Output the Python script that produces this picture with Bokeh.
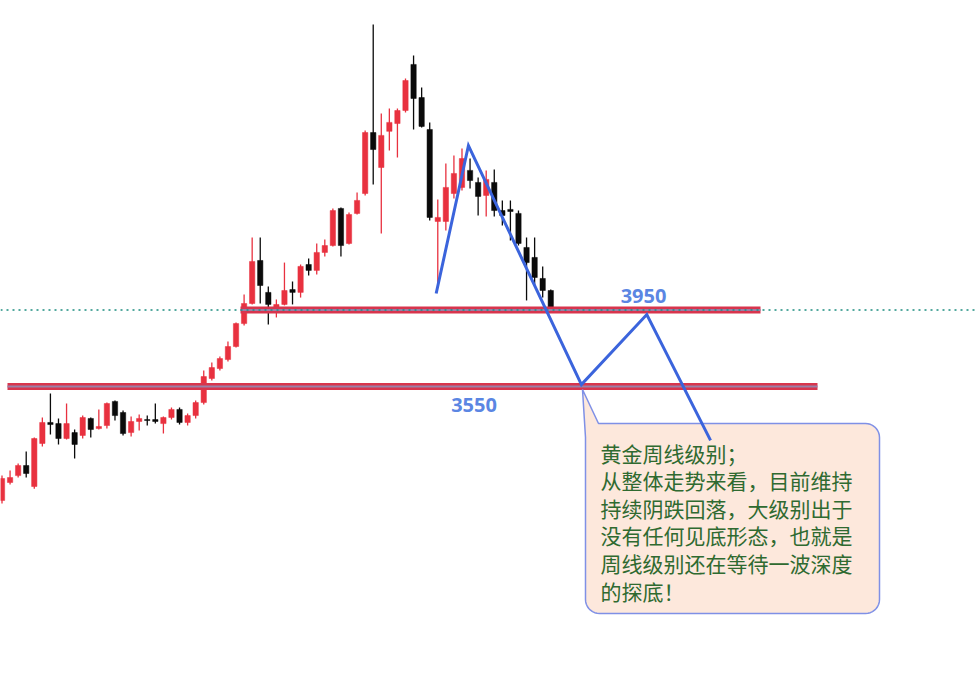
import numpy as np
from bokeh.plotting import figure
from bokeh.models import Range1d, ColumnDataSource
from bokeh.embed import file_html
from bokeh.resources import INLINE
from bokeh.core.properties import value

# ---------------- data (weekly gold candles) ----------------
opens = [2954, 3048, 3084, 3137, 3027, 3252, 3362, 3356, 3278, 3309,
         3294, 3383, 3330, 3346, 3472, 3414, 3309, 3367, 3377, 3377,
         3356, 3388, 3430, 3362, 3398, 3466, 3592, 3644, 3691, 3759,
         3879, 3984, 4209, 4042, 3958, 3979, 4057, 4042, 4188, 4157,
         4251, 4287, 4481, 4298, 4455, 4559, 4878, 4695, 4884, 4925,
         4993, 5234, 5061, 4894, 4413, 4413, 4559, 4591, 4680, 4617,
         4549, 4617, 4470, 4476, 4455, 4277, 4225, 4115, 4052]
highs = [3084, 3111, 3147, 3210, 3283, 3388, 3513, 3383, 3461, 3325,
         3398, 3388, 3430, 3466, 3477, 3424, 3393, 3403, 3398, 3461,
         3393, 3440, 3440, 3409, 3477, 3634, 3675, 3707, 3785, 3885,
         4031, 4329, 4329, 4073, 4005, 4198, 4099, 4188, 4219, 4298,
         4319, 4481, 4486, 4460, 4565, 4889, 5443, 4978, 5004, 5004,
         5161, 5281, 5114, 4931, 4528, 4716, 4758, 4795, 4742, 4643,
         4680, 4685, 4523, 4523, 4470, 4329, 4329, 4178, 4057]
lows = [2938, 3037, 3074, 3074, 3016, 3236, 3299, 3247, 3273, 3173,
        3278, 3283, 3325, 3330, 3372, 3294, 3288, 3320, 3346, 3356,
        3304, 3377, 3351, 3346, 3383, 3456, 3581, 3634, 3681, 3754,
        3869, 3979, 3984, 3874, 3911, 3974, 3979, 4015, 4130, 4136,
        4230, 4282, 4230, 4293, 4449, 4549, 4606, 4350, 4784, 4748,
        4983, 4894, 4904, 4418, 4068, 4366, 4533, 4575, 4585, 4444,
        4439, 4439, 4392, 4313, 4287, 4000, 4078, 4015, 3937]
closes = [3069, 3074, 3137, 3095, 3278, 3362, 3351, 3278, 3356, 3247,
          3388, 3325, 3341, 3461, 3398, 3304, 3367, 3383, 3372, 3367,
          3388, 3430, 3362, 3398, 3466, 3602, 3649, 3696, 3759, 3879,
          3984, 4204, 4078, 3979, 3979, 4052, 4042, 4178, 4157, 4251,
          4287, 4470, 4287, 4449, 4523, 4878, 4789, 4863, 4931, 4993,
          5150, 5056, 4910, 4434, 4434, 4591, 4664, 4742, 4627, 4544,
          4633, 4470, 4444, 4465, 4298, 4198, 4120, 4052, 3963]

level_values = [3950, 3550]
level_labels = ["3950", "3550"]

# projected path (week index, price)
wave_x = [53.8, 57.8, 71.8, 79.9, 87.8]
wave_y = [4036, 4810, 3560, 3926, 3268]

note_lines = [
    "黄金周线级别；",
    "从整体走势来看，目前维持",
    "持续阴跌回落，大级别出于",
    "没有任何见底形态，也就是",
    "周线级别还在等待一波深度",
    "的探底！",
]

# ---------------- layout helpers (pixel -> data) ----------------
W, H = 978, 677
STEP = 8.07      # pixels per week
X0 = 1.5         # pixel of week 0
K = 400 / 76.5   # price per pixel
Y_TOP = 3950 + 309.5 * K


def dx(px):
    return (px - X0) / STEP


def dy(py):
    return Y_TOP - py * K


p = figure(width=W, height=H, x_range=Range1d(dx(0), dx(W)),
           y_range=Range1d(dy(H), dy(0)), output_backend="svg",
           toolbar_location=None, x_axis_location=None, y_axis_location=None,
           min_border=0)
p.grid.visible = False
p.outline_line_color = None
p.background_fill_color = "white"
p.border_fill_color = "white"

RED = "#e8313f"
BLACK = "#0a0a0a"
idx = list(range(len(opens)))
colors = [RED if c >= o else BLACK for o, c in zip(opens, closes)]
src = ColumnDataSource(dict(
    x=idx, o=opens, h=highs, l=lows, c=closes,
    top=[max(o, c) for o, c in zip(opens, closes)],
    bot=[min(o, c) for o, c in zip(opens, closes)],
    col=colors))
p.segment(x0="x", y0="h", x1="x", y1="l", color="col", line_width=1.3, source=src)
p.vbar(x="x", top="top", bottom="bot", width=0.66, fill_color="col",
       line_color="col", line_width=0.5, source=src)

# horizontal levels (red band with mauve core)
level_spans = [(dx(240), dx(760)), (dx(7), dx(817))]
for lv, (a, b) in zip(level_values, level_spans):
    p.line([a, b], [lv, lv], line_color="#d8354d", line_width=7)
    p.line([a, b], [lv, lv], line_color="#9a80a8", line_width=2.2)

# teal dotted line
p.line([dx(0), dx(W)], [level_values[0], level_values[0]], line_color="#1d8d7f",
       line_width=1.4, line_dash="2 4")

# level labels
p.text(x=[dx(643), dx(473.5)], y=[dy(295), dy(404.5)], text=level_labels,
       text_font=value("Open Sans"), text_font_style="bold", text_font_size="20px",
       text_color="#5b86e3", text_align="center", text_baseline="middle")

# callout box with tail
r = 14
L, R_, T, B = 585, 879, 423, 613
pts = [(582, 389), (598, T)]
for cx, cy, a0, a1 in [(R_ - r, T + r, -90, 0), (R_ - r, B - r, 0, 90), (L + r, B - r, 90, 180)]:
    for a in np.linspace(np.radians(a0), np.radians(a1), 10):
        pts.append((cx + r * np.cos(a), cy + r * np.sin(a)))
pts.append((L, T + 14))
p.patch([dx(q[0]) for q in pts], [dy(q[1]) for q in pts], fill_color="#fde8dc",
        line_color="#7f90e6", line_width=1.5)

# projected wave path
p.line(wave_x, wave_y, line_color="#3b64dc", line_width=3, line_join="miter")

# note text
line_y = [452 + 27.6 * i for i in range(len(note_lines))]
p.text(x=[dx(600)] * len(note_lines), y=[dy(v) for v in line_y], text=note_lines,
       text_font=value("Noto Sans CJK SC"), text_font_size="21px",
       text_color="#2f6a30", text_align="left", text_baseline="middle")

open("out.html", "w").write(file_html(p, INLINE))
